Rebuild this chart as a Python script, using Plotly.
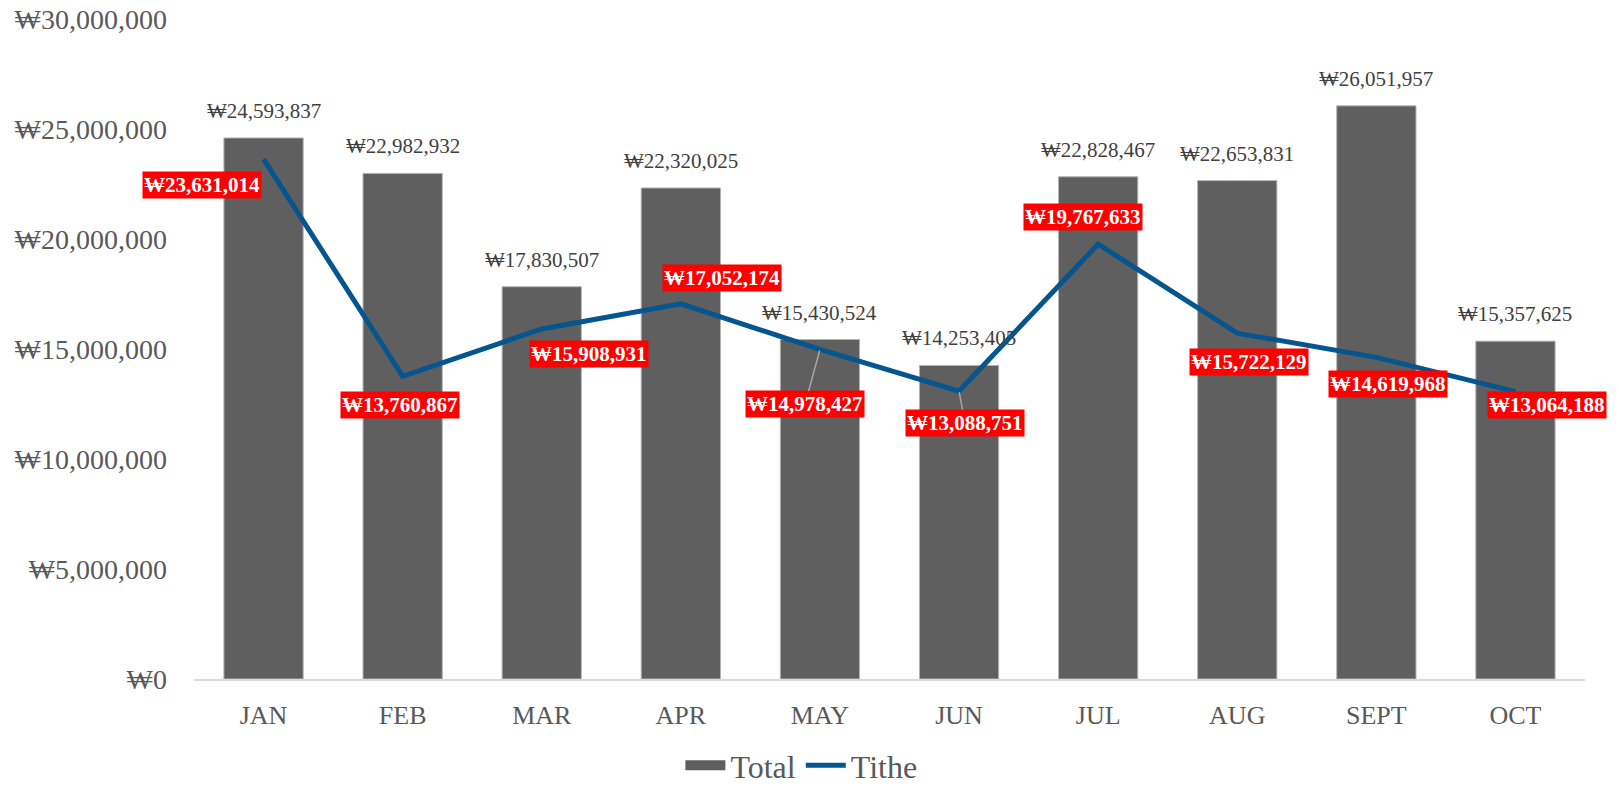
import plotly.graph_objects as go

months = ["JAN", "FEB", "MAR", "APR", "MAY", "JUN", "JUL", "AUG", "SEPT", "OCT"]
total = [24593837, 22982932, 17830507, 22320025, 15430524, 14253405,
         22828467, 22653831, 26051957, 15357625]
tithe = [23631014, 13760867, 15908931, 17052174, 14978427, 13088751,
         19767633, 15722129, 14619968, 13064188]

# label placement offsets for the Tithe labels (pixels, +y = down)
tithe_dx = [-62, -3, 47, 41, -15, 6, -15, 12, 12, 32]
tithe_dy = [26, 29, 25, -26, 55, 32, -27, 29, 27, 13]
tithe_leader = [False, False, False, False, True, True, False, False, False, False]

FONT = "Liberation Serif"
BAR_COLOR = "#5F5F5F"
LINE_COLOR = "#05558F"

fig = go.Figure()
fig.add_trace(go.Bar(
    x=months, y=total, name="Total", showlegend=False,
    marker=dict(color=BAR_COLOR, line=dict(color="#B4B4B4", width=1)),
))
fig.add_trace(go.Scatter(
    x=months, y=tithe, name="Tithe", mode="lines", showlegend=False,
    line=dict(color=LINE_COLOR, width=5),
))
# legend entries (wide swatches like the original)
fig.add_trace(go.Scatter(
    x=[None], y=[None], name="Total", mode="lines",
    line=dict(color=BAR_COLOR, width=11),
))
fig.add_trace(go.Scatter(
    x=[None], y=[None], name="Tithe", mode="lines",
    line=dict(color=LINE_COLOR, width=5),
))

annotations = []
for m, v in zip(months, total):
    annotations.append(dict(
        x=m, y=v, xref="x", yref="y", text=f"₩{v:,}", showarrow=False,
        yanchor="middle", yshift=27,
        font=dict(family=FONT, size=21, color="#404040"),
    ))
for m, v, dx, dy, lead in zip(months, tithe, tithe_dx, tithe_dy, tithe_leader):
    a = dict(
        x=m, y=v, xref="x", yref="y", text=f"<b>₩{v:,}</b>",
        bgcolor="#FF0000", borderpad=1,
        font=dict(family=FONT, size=21, color="white"),
    )
    if lead:
        a.update(showarrow=True, ax=dx, ay=dy, arrowhead=0, arrowwidth=1.5,
                 arrowcolor="#A6A6A6", standoff=1)
    else:
        a.update(showarrow=False, xshift=dx, yshift=-dy)
    annotations.append(a)

fig.update_layout(
    width=1619, height=789,
    margin=dict(l=194, r=34, t=19, b=110),
    paper_bgcolor="white", plot_bgcolor="white",
    bargap=0.43,
    font=dict(family=FONT, color="#595959"),
    showlegend=True,
    legend=dict(orientation="h", xref="container", x=0.495, xanchor="center",
                yref="container", y=0.03, yanchor="middle",
                font=dict(family=FONT, size=32, color="#595959"),
                itemwidth=40),
    annotations=annotations,
)
fig.update_xaxes(
    range=[-0.5, len(months) - 0.5], automargin=False,
    showgrid=False, showline=True, linecolor="#D9D9D9", linewidth=1.5,
    ticks="", ticklabelstandoff=12,
    tickfont=dict(family=FONT, size=26, color="#595959"),
)
fig.update_yaxes(
    range=[0, 30000000], dtick=5000000, showgrid=False, zeroline=False,
    showline=False, tickprefix="₩", tickformat=",d", automargin=False,
    ticklabelstandoff=26, ticklabeloverflow="allow",
    tickfont=dict(family=FONT, size=28, color="#595959"),
)

fig.write_html("out.html",
               config={"displayModeBar": False},
               post_script="document.body.style.margin='0';document.body.style.overflow='hidden';")
